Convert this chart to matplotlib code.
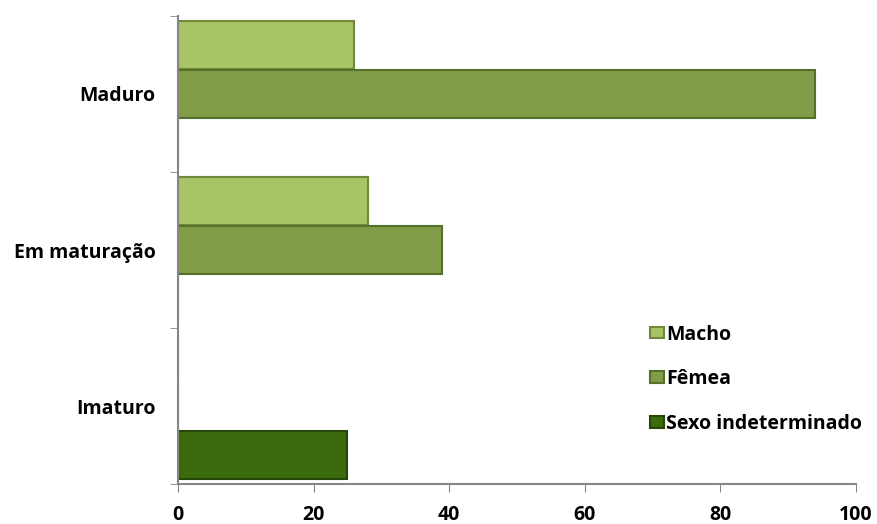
import numpy as np
import matplotlib.pyplot as plt

categories = ['Imaturo', 'Em maturação', 'Maduro']
series = ['Macho', 'Fêmea', 'Sexo indeterminado']
macho = [0, 28, 26]
femea = [0, 39, 94]
indet = [25, 0, 0]
colors = ['#A9C466', '#809C47', '#3C6B0D']
edges = ['#6E8A3A', '#55702B', '#26470A']

plt.rcParams['font.family'] = ['Open Sans', 'DejaVu Sans']
plt.rcParams['font.weight'] = 'bold'

fig = plt.figure(figsize=(8.78, 5.24), dpi=100)
ax = fig.add_axes([0.2027, 0.0763, 0.7723, 0.8932])

y = np.arange(len(categories))
h = 0.314
for vals, off, c, ec, lab in zip([macho, femea, indet], [h, 0, -h], colors, edges, series):
    ax.barh(y + off, vals, height=h * 0.97, color=c, edgecolor=ec, linewidth=1.5, label=lab)

ax.set_xlim(0, 100)
ax.set_ylim(-0.5, 2.5)
ax.set_xticks(np.arange(0, 101, 20))
ax.set_yticks(y)
ax.set_yticklabels(categories)
ax.set_yticks(np.arange(-0.5, 2.6, 1), minor=True)
ax.tick_params(axis='y', which='major', length=0, pad=16, labelsize=14)
ax.tick_params(axis='y', which='minor', length=6, color='#868686', direction='out')
ax.tick_params(axis='x', length=6, color='#868686', direction='out', labelsize=14, pad=9)
for s in ['top', 'right']:
    ax.spines[s].set_visible(False)
for s in ['left', 'bottom']:
    ax.spines[s].set_color('#868686')
    ax.spines[s].set_linewidth(1.5)

ax.legend(loc='lower right', bbox_to_anchor=(1.029, 0.078), frameon=False, fontsize=14,
          handlelength=0.72, handleheight=0.55, handletextpad=0.12, labelspacing=1.27,
          borderpad=0.2)

fig.savefig('out.png', dpi=100)
